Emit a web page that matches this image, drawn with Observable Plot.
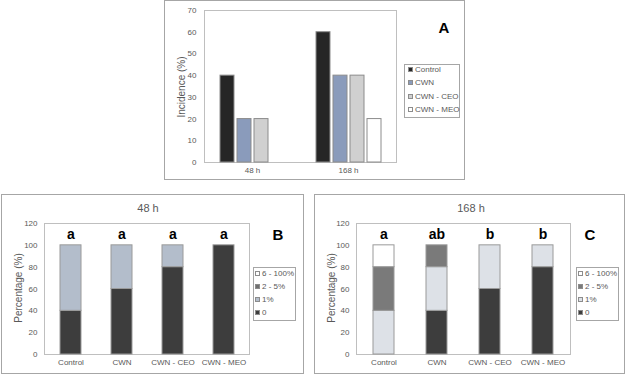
<!DOCTYPE html>
<html>
<head>
<meta charset="utf-8">
<script src="https://cdn.jsdelivr.net/npm/d3@7"></script>
<script src="https://cdn.jsdelivr.net/npm/@observablehq/plot@0.6"></script>
<style>
  body { margin: 0; background: #fff; }
  #root { position: relative; width: 626px; height: 374px; font-family: "Liberation Sans", Arial, sans-serif; color: #595959; overflow: hidden; }
  .abs { position: absolute; }
  .box { position: absolute; border: 1px solid #a6a6a6; box-sizing: border-box; }
  .ylab { position: absolute; transform: translate(-50%, -50%) rotate(-90deg); white-space: nowrap; font-size: 10px; color: #595959; }
  .legend { position: absolute; border: 1px solid #a6a6a6; box-sizing: border-box; background: #fff; }
  .litem { position: absolute; font-size: 8px; line-height: 8px; white-space: nowrap; color: #595959; }
  .sw { display: inline-block; width: 5px; height: 5px; box-sizing: border-box; border: 1px solid #8c8c8c; margin-right: 2px; vertical-align: 0px; }
  .panelLetter { position: absolute; font-weight: bold; font-size: 15px; color: #000; transform: translate(-50%, -50%); }
  .title { position: absolute; font-size: 11px; color: #595959; transform: translate(-50%, -50%); white-space: nowrap; }
</style>
</head>
<body>
<div id="root"></div>
<script>
// ---------- Data ----------
const timesA = ["48 h", "168 h"];
const seriesA = ["Control", "CWN", "CWN - CEO", "CWN - MEO"];
const incidence48 = [40, 20, 20, 0];
const incidence168 = [60, 40, 40, 20];
const yTicksA = [0, 10, 20, 30, 40, 50, 60, 70];

const treatments = ["Control", "CWN", "CWN - CEO", "CWN - MEO"];
const levels = ["0", "1%", "2 - 5%", "6 - 100%"];
const yTicksBC = [0, 20, 40, 60, 80, 100, 120];

// panel B (48 h) percentages per level, by treatment
const b_0 = [40, 60, 80, 100];
const b_1 = [60, 40, 20, 0];
const b_2_5 = [0, 0, 0, 0];
const b_6_100 = [0, 0, 0, 0];
const lettersB = ["a", "a", "a", "a"];

// panel C (168 h)
const c_0 = [0, 40, 60, 80];
const c_1 = [40, 40, 40, 20];
const c_2_5 = [40, 20, 0, 0];
const c_6_100 = [20, 0, 0, 0];
const lettersC = ["a", "ab", "b", "b"];

// ---------- Styles ----------
const colorsA = ["#262626", "#8a9bbb", "#d0d0d0", "#ffffff"];
const colorsB = ["#3d3d3d", "#b3bdcb", "#6f6f6f", "#ffffff"];
const colorsC = ["#3d3d3d", "#dde1e7", "#7a7a7a", "#ffffff"];
const FONT = "'Liberation Sans', Arial, sans-serif";

const root = document.getElementById("root");
function el(tag, cls, css, text) {
  const e = document.createElement(tag);
  if (cls) e.className = cls;
  if (css) Object.assign(e.style, css);
  if (text != null) e.textContent = text;
  root.appendChild(e);
  return e;
}
function place(node, left, top) {
  const w = document.createElement("div");
  w.className = "abs";
  Object.assign(w.style, { left: left + "px", top: top + "px" });
  w.appendChild(node);
  root.appendChild(w);
  return w;
}
function legend(items, colors, left, top, width, height, swLeft, rowTops) {
  el("div", "legend", { left: left + "px", top: top + "px", width: width + "px", height: height + "px" });
  items.forEach((it, i) => {
    const d = el("div", "litem", { left: (left + swLeft) + "px", top: (top + rowTops[i]) + "px" });
    const s = document.createElement("span");
    s.className = "sw";
    s.style.background = colors[i];
    d.appendChild(s);
    d.appendChild(document.createTextNode(it));
  });
}

// ---------- Panel A ----------
el("div", "box", { left: "164px", top: "0px", width: "301px", height: "180px" });
el("div", "box", { left: "204px", top: "10px", width: "193px", height: "153px", borderColor: "#bfbfbf" });

const dataA = [];
timesA.forEach((t, i) => {
  const vals = i === 0 ? incidence48 : incidence168;
  seriesA.forEach((s, j) => { if (vals[j] > 0) dataA.push({ time: t, series: s, value: vals[j] }); });
});

const plotA = Plot.plot({
  width: 300, height: 179,
  marginLeft: 40, marginRight: 68, marginTop: 10, marginBottom: 17,
  style: { fontFamily: FONT, fontSize: "8px", color: "#595959", background: "transparent", overflow: "visible" },
  fx: { domain: timesA, padding: 0, label: null },
  x: { domain: seriesA, paddingInner: 0.2, paddingOuter: 0.84, axis: null },
  y: { domain: [0, 70] },
  color: { domain: seriesA, range: colorsA },
  marks: [
    Plot.axisY({ ticks: yTicksA, tickSize: 0, tickPadding: 8, label: null }),
    Plot.axisFx({ anchor: "bottom", tickSize: 0, tickPadding: 5, label: null }),
    Plot.barY(dataA, { fx: "time", x: "series", y: "value", fill: "series", stroke: "#8c8c8c", strokeWidth: 1 })
  ]
});
place(plotA, 164, 0);
el("div", "ylab", { left: "181px", top: "87px" }, "Incidence (%)");
el("div", "panelLetter", { left: "444px", top: "27px" }, "A");
legend(seriesA, colorsA, 404, 64, 56, 54, 4, [2, 15, 29, 42]);

// ---------- Panels B & C ----------
function stacked(arrs) {
  const out = [];
  treatments.forEach((t, i) => {
    levels.forEach((lv, k) => { const v = arrs[k][i]; if (v > 0) out.push({ treatment: t, level: lv, value: v }); });
  });
  return out;
}
function stackPanel(data, letters, colors, width, marginLeft, marginRight, pInner, pOuter) {
  const lettersData = treatments.map((t, i) => ({ treatment: t, letter: letters[i], top: 100 }));
  return Plot.plot({
    width, height: 179,
    marginLeft, marginRight, marginTop: 29, marginBottom: 19,
    style: { fontFamily: FONT, fontSize: "8px", color: "#595959", background: "transparent", overflow: "visible" },
    x: { domain: treatments, paddingInner: pInner, paddingOuter: pOuter },
    y: { domain: [0, 120] },
    color: { domain: levels, range: colors },
    marks: [
      Plot.frame({ stroke: "#bfbfbf" }),
      Plot.axisY({ ticks: yTicksBC, tickSize: 0, tickPadding: 7, label: null }),
      Plot.axisX({ tickSize: 0, tickPadding: 5, label: null }),
      Plot.barY(data, { x: "treatment", y: "value", fill: "level", order: levels, stroke: "#9a9a9a", strokeWidth: 1 }),
      Plot.text(lettersData, { x: "treatment", y: "top", text: "letter", dy: -11, fontSize: 14, fontWeight: "bold", fill: "#000" })
    ]
  });
}

// Panel B
el("div", "box", { left: "1px", top: "194px", width: "303px", height: "180px" });
const plotB = stackPanel(stacked([b_0, b_1, b_2_5, b_6_100]), lettersB, colorsB, 302, 43, 54, 0.59, 0.295);
place(plotB, 1, 194);
el("div", "title", { left: "148px", top: "208px" }, "48 h");
el("div", "ylab", { left: "18px", top: "288px" }, "Percentage (%)");
el("div", "panelLetter", { left: "278px", top: "234px" }, "B");
legend(levels.slice().reverse(), colorsB.slice().reverse(), 253, 267, 43, 54, 2, [3, 16, 29, 42]);

// Panel C
el("div", "box", { left: "314px", top: "194px", width: "311px", height: "180px" });
const plotC = stackPanel(stacked([c_0, c_1, c_2_5, c_6_100]), lettersC, colorsC, 310, 42, 54, 0.607, 0.3035);
place(plotC, 314, 194);
el("div", "title", { left: "471px", top: "208px" }, "168 h");
el("div", "ylab", { left: "331px", top: "288px" }, "Percentage (%)");
el("div", "panelLetter", { left: "590px", top: "234px" }, "C");
legend(levels.slice().reverse(), colorsC.slice().reverse(), 576, 267, 43, 54, 2, [3, 16, 29, 42]);
</script>
</body>
</html>
